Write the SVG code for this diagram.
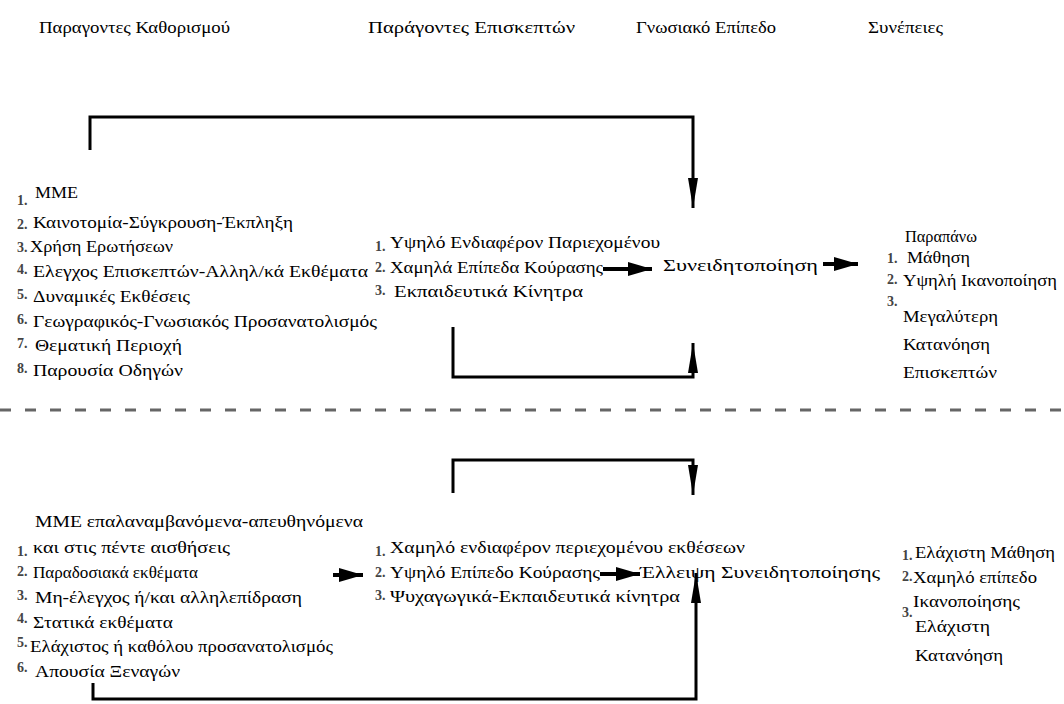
<svg xmlns="http://www.w3.org/2000/svg" width="1064" height="704" viewBox="0 0 1064 704">
  <style>
    text { font-family: "Liberation Serif", "DejaVu Serif", "Noto Serif", serif; fill: #000; }
    .h { font-size: 16px; }
    .t { font-size: 16px; }
    .n { font-size: 14px; fill: #444; font-weight: bold; }
    .ln { fill: none; stroke: #000; stroke-width: 3; }
    .fat { fill: none; stroke: #000; stroke-width: 4; }
    .dash { fill: none; stroke: #666; stroke-width: 3; stroke-dasharray: 11 14; }
  </style>
  <defs>
    <marker id="tip" markerUnits="userSpaceOnUse" markerWidth="30" markerHeight="10" refX="30" refY="5" orient="auto">
      <path d="M0,0 L30,5 L0,10 Z" fill="#000"/>
    </marker>
    <marker id="bold" markerUnits="userSpaceOnUse" markerWidth="24" markerHeight="14" refX="24" refY="7" orient="auto">
      <path d="M0,0 L24,7 L0,14 Z" fill="#000"/>
    </marker>
  </defs>
  <rect width="1064" height="704" fill="#fff"/>

  <!-- column headings -->
  <g id="headings">
    <text class="h" x="39" y="33" textLength="191" lengthAdjust="spacingAndGlyphs">Παραγοντες Καθορισμού</text>
    <text class="h" x="368" y="33" textLength="207" lengthAdjust="spacingAndGlyphs">Παράγοντες Επισκεπτών</text>
    <text class="h" x="636" y="33" textLength="140" lengthAdjust="spacingAndGlyphs">Γνωσιακό Επίπεδο</text>
    <text class="h" x="868" y="33" textLength="75" lengthAdjust="spacingAndGlyphs">Συνέπειες</text>
  </g>

  <!-- upper half: favourable factors -->
  <g id="determinants-high">
    <text class="n" x="17" y="205">1.</text>
    <text class="t" x="35" y="198" textLength="43" lengthAdjust="spacingAndGlyphs">ΜΜΕ</text>
    <text class="n" x="17" y="229">2.</text>
    <text class="t" x="33" y="228" textLength="260" lengthAdjust="spacingAndGlyphs">Καινοτομία-Σύγκρουση-Έκπληξη</text>
    <text class="n" x="17" y="252">3.</text>
    <text class="t" x="30" y="252" textLength="143" lengthAdjust="spacingAndGlyphs">Χρήση Ερωτήσεων</text>
    <text class="n" x="17" y="274">4.</text>
    <text class="t" x="33" y="277" textLength="335" lengthAdjust="spacingAndGlyphs">Ελεγχος Επισκεπτών-Αλληλ/κά Εκθέματα</text>
    <text class="n" x="17" y="299">5.</text>
    <text class="t" x="33" y="302" textLength="157" lengthAdjust="spacingAndGlyphs">Δυναμικές Εκθέσεις</text>
    <text class="n" x="17" y="324">6.</text>
    <text class="t" x="33" y="327" textLength="344" lengthAdjust="spacingAndGlyphs">Γεωγραφικός-Γνωσιακός Προσανατολισμός</text>
    <text class="n" x="17" y="348">7.</text>
    <text class="t" x="35" y="351" textLength="147" lengthAdjust="spacingAndGlyphs">Θεματική Περιοχή</text>
    <text class="n" x="17" y="373">8.</text>
    <text class="t" x="33" y="376" textLength="150" lengthAdjust="spacingAndGlyphs">Παρουσία Οδηγών</text>
  </g>

  <g id="visitors-high">
    <text class="n" x="375" y="251">1.</text>
    <text class="t" x="390" y="248" textLength="270" lengthAdjust="spacingAndGlyphs">Υψηλό Ενδιαφέρον Παριεχομένου</text>
    <text class="n" x="375" y="272">2.</text>
    <text class="t" x="390" y="273" textLength="213" lengthAdjust="spacingAndGlyphs">Χαμηλά Επίπεδα Κούρασης</text>
    <text class="n" x="375" y="295">3.</text>
    <text class="t" x="394" y="297" textLength="189" lengthAdjust="spacingAndGlyphs">Εκπαιδευτικά Κίνητρα</text>
  </g>

  <g id="awareness">
    <text class="t" x="663" y="271" textLength="155" lengthAdjust="spacingAndGlyphs">Συνειδητοποίηση</text>
  </g>

  <g id="outcomes-high">
    <text class="t" x="905" y="242" textLength="72" lengthAdjust="spacingAndGlyphs">Παραπάνω</text>
    <text class="n" x="887" y="263">1.</text>
    <text class="t" x="907" y="263" textLength="63" lengthAdjust="spacingAndGlyphs">Μάθηση</text>
    <text class="n" x="887" y="284">2.</text>
    <text class="t" x="903" y="286" textLength="154" lengthAdjust="spacingAndGlyphs">Υψηλή Ικανοποίηση</text>
    <text class="n" x="887" y="306">3.</text>
    <text class="t" x="903" y="322" textLength="95" lengthAdjust="spacingAndGlyphs">Μεγαλύτερη</text>
    <text class="t" x="903" y="350" textLength="87" lengthAdjust="spacingAndGlyphs">Κατανόηση</text>
    <text class="t" x="903" y="378" textLength="94" lengthAdjust="spacingAndGlyphs">Επισκεπτών</text>
  </g>

  <!-- lower half: unfavourable factors -->
  <g id="determinants-low">
    <text class="t" x="35" y="527" textLength="328" lengthAdjust="spacingAndGlyphs">ΜΜΕ επαλαναμβανόμενα-απευθηνόμενα</text>
    <text class="n" x="17" y="556">1.</text>
    <text class="t" x="33" y="553" textLength="197" lengthAdjust="spacingAndGlyphs">και στις πέντε αισθήσεις</text>
    <text class="n" x="17" y="576">2.</text>
    <text class="t" x="33" y="578" textLength="165" lengthAdjust="spacingAndGlyphs">Παραδοσιακά εκθέματα</text>
    <text class="n" x="17" y="600">3.</text>
    <text class="t" x="35" y="603" textLength="267" lengthAdjust="spacingAndGlyphs">Μη-έλεγχος ή/και αλληλεπίδραση</text>
    <text class="n" x="17" y="623">4.</text>
    <text class="t" x="33" y="628" textLength="140" lengthAdjust="spacingAndGlyphs">Στατικά εκθέματα</text>
    <text class="n" x="17" y="647">5.</text>
    <text class="t" x="30" y="652" textLength="303" lengthAdjust="spacingAndGlyphs">Ελάχιστος ή καθόλου προσανατολισμός</text>
    <text class="n" x="17" y="672">6.</text>
    <text class="t" x="35" y="677" textLength="145" lengthAdjust="spacingAndGlyphs">Απουσία Ξεναγών</text>
  </g>

  <g id="visitors-low">
    <text class="n" x="375" y="556">1.</text>
    <text class="t" x="390" y="553" textLength="355" lengthAdjust="spacingAndGlyphs">Χαμηλό ενδιαφέρον περιεχομένου εκθέσεων</text>
    <text class="n" x="375" y="577">2.</text>
    <text class="t" x="390" y="578" textLength="210" lengthAdjust="spacingAndGlyphs">Υψηλό Επίπεδο Κούρασης</text>
    <text class="n" x="375" y="600">3.</text>
    <text class="t" x="390" y="602" textLength="290" lengthAdjust="spacingAndGlyphs">Ψυχαγωγικά-Εκπαιδευτικά κίνητρα</text>
  </g>

  <g id="no-awareness">
    <text class="t" x="640" y="578" textLength="240" lengthAdjust="spacingAndGlyphs">Έλλειψη Συνειδητοποίησης</text>
  </g>

  <g id="outcomes-low">
    <text class="n" x="902" y="560">1.</text>
    <text class="t" x="915" y="558" textLength="140" lengthAdjust="spacingAndGlyphs">Ελάχιστη Μάθηση</text>
    <text class="n" x="902" y="581">2.</text>
    <text class="t" x="913" y="583" textLength="124" lengthAdjust="spacingAndGlyphs">Χαμηλό επίπεδο</text>
    <text class="t" x="913" y="607" textLength="107" lengthAdjust="spacingAndGlyphs">Ικανοποίησης</text>
    <text class="n" x="902" y="617">3.</text>
    <text class="t" x="915" y="632" textLength="75" lengthAdjust="spacingAndGlyphs">Ελάχιστη</text>
    <text class="t" x="915" y="661" textLength="88" lengthAdjust="spacingAndGlyphs">Κατανόηση</text>
  </g>

  <!-- connectors -->
  <g id="connectors">
    <path class="ln" d="M90,150 V117 H693 V208" marker-end="url(#tip)"/>
    <path class="ln" d="M453,327 V377 H693 V343" marker-end="url(#tip)"/>
    <path class="fat" d="M603,269 H652" marker-end="url(#bold)"/>
    <path class="fat" d="M823,264 H858" marker-end="url(#bold)"/>

    <line class="dash" x1="0" y1="410" x2="1064" y2="410"/>

    <path class="ln" d="M453,493 V460 H693 V495" marker-end="url(#tip)"/>
    <path class="fat" d="M333,575 H363" marker-end="url(#bold)"/>
    <path class="fat" d="M600,574 H640" marker-end="url(#bold)"/>
    <path class="ln" d="M93,683 V699 H696 V573" marker-end="url(#tip)"/>
  </g>
</svg>
